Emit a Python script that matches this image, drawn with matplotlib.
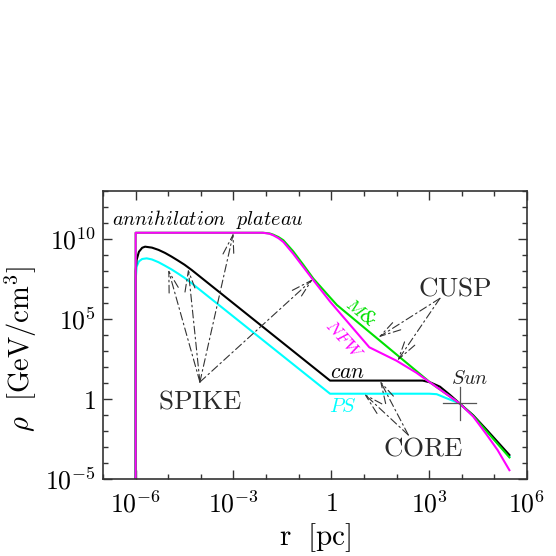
import numpy as np
import matplotlib
matplotlib.use('Agg')
import matplotlib.pyplot as plt

plt.rcParams['mathtext.fontset'] = 'cm'
plt.rcParams['font.family'] = ['DejaVu Serif']

# dark matter density profiles as (log10 r [pc], log10 rho [GeV/cm^3])
logr_nfw = [-6.0, -6.0, -2.1, -1.9, -1.78, -1.62, -1.47, -1.17, -0.86, -0.55, -0.04, 1.165,
            2.0, 2.6, 3.05, 3.5, 3.93, 4.35, 4.77, 5.1, 5.46]
logrho_nfw = [-6.0, 10.39, 10.39, 10.33, 10.23, 10.05, 9.81, 9.08, 8.25, 7.42, 6.09, 3.23,
              2.39, 1.65, 1.0, 0.35, -0.27, -1.1, -2.25, -3.2, -4.45]

logr_moore = [-6.0, -6.0, -2.1, -1.9, -1.78, -1.62, -1.47, -1.17, -0.86, -0.55, -0.04, 0.17,
              3.05, 3.5, 3.93, 4.35, 4.77, 5.46]
logrho_moore = [-6.0, 10.39, 10.39, 10.35, 10.27, 10.12, 9.92, 9.23, 8.39, 7.52, 6.35, 5.875,
                1.0, 0.35, -0.27, -1.05, -2.04, -3.65]

logr_can = [-6.0, -6.0, -5.97, -5.9, -5.8, -5.71, -5.5, -5.3, -5.1, -4.9, -4.7, -4.5, -4.28,
            -0.04, 2.8, 3.03, 3.33, 3.64, 3.93, 4.35, 4.77, 5.46]
logrho_can = [-6.0, 8.0, 8.69, 9.2, 9.45, 9.52, 9.46, 9.32, 9.13, 8.9, 8.65, 8.39, 8.06,
              1.15, 1.15, 1.04, 0.77, 0.25, -0.27, -1.02, -1.94, -3.5]

logr_ps = [-6.0, -6.0, -5.97, -5.9, -5.8, -5.66, -5.5, -5.3, -5.1, -4.9, -4.7, -4.5, -4.28,
           -0.04, 3.0, 3.23, 3.54, 3.93, 4.35, 4.77, 5.46]
logrho_ps = [-6.0, 7.4, 8.27, 8.6, 8.75, 8.79, 8.72, 8.55, 8.33, 8.1, 7.84, 7.57, 7.23,
             0.33, 0.33, 0.3, 0.04, -0.27, -1.05, -2.0, -3.6]

sun_r = 10**3.93
sun_rho = 10**-0.27

xmajor = [1e-6, 1e-3, 1, 1e3, 1e6]
xlabels = [r'$10^{-6}$', r'$10^{-3}$', r'$1$', r'$10^{3}$', r'$10^{6}$']
ymajor = [1e-5, 1, 1e5, 1e10]
ylabels = [r'$10^{-5}$', r'$1$', r'$10^{5}$', r'$10^{10}$']


def p(lr, lrho):
    return 10**np.array(lr, dtype=float), 10**np.array(lrho, dtype=float)


fig = plt.figure(figsize=(5.56, 5.56), dpi=100)
ax = fig.add_axes([0.1853, 0.1385, 0.7626, 0.518])

ax.plot(*p(logr_ps, logrho_ps), color='#00ffff', lw=1.5)
ax.plot(*p(logr_can, logrho_can), color='black', lw=1.5)
ax.plot(*p(logr_moore, logrho_moore), color='#00e000', lw=1.5)
ax.plot(*p(logr_nfw, logrho_nfw), color='#ff00ff', lw=1.5)

# Sun position cross
ax.plot([sun_r / 10**0.5, sun_r * 10**0.5], [sun_rho, sun_rho], color='#555555', lw=0.9)
ax.plot([sun_r, sun_r], [sun_rho / 10**1.04, sun_rho * 10**1.04], color='#555555', lw=0.9)

ax.set_xscale('log')
ax.set_yscale('log')
ax.set_xlim(1e-7, 1e6)
ax.set_ylim(1e-5, 1e13)

ax.set_xticks(xmajor, labels=xlabels)
ax.set_xticks(10.0**np.arange(-7, 7), minor=True)
ax.set_yticks(ymajor, labels=ylabels)
ax.set_yticks(10.0**np.arange(-5, 14), minor=True)
ax.tick_params(which='both', direction='in', top=True, right=True, color='#333333',
               labelsize=18.5)
ax.tick_params(which='major', length=6.5, width=1.0)
ax.tick_params(which='minor', length=3.5, width=1.0, labelbottom=False, labelleft=False)
ax.tick_params(axis='x', which='major', pad=9)
ax.tick_params(axis='y', which='major', pad=5)
for s in ax.spines.values():
    s.set_color('#333333')
    s.set_linewidth(1.2)

ax.set_xlabel(r'$\mathrm{r\ \ [pc]}$', fontsize=21, labelpad=2)
ax.set_ylabel(r'$\rho\ \ [\mathrm{GeV/cm^3}]$', fontsize=20.5)
ax.yaxis.set_label_coords(-0.15, 0.45)

# annotations
arr = dict(arrowstyle='->,head_length=1.5,head_width=0.4', linestyle=(0, (7, 3, 1.5, 3)),
           lw=0.8, color='#333333', shrinkA=0, shrinkB=0, mutation_scale=10)


def arrows(origin, targets):
    for t in targets:
        ax.annotate('', xy=p(*t), xytext=p(*origin), arrowprops=arr)


arrows((-4.03, 1.06), [(-5.0, 8.1), (-4.39, 8.15), (-3.0, 10.39), (-0.56, 7.5)])
arrows((3.33, 6.29), [(1.44, 3.85), (2.02, 2.37)])
arrows((2.36, -2.25), [(1.49, 1.15), (1.0, 0.33)])

big = dict(fontsize=19.5, color='#2a2a2a', ha='center', va='center')
ax.text(*p(-4.03, -0.15), r'$\mathrm{SPIKE}$', **big)
ax.text(*p(3.8, 6.94), r'$\mathrm{CUSP}$', **big)
ax.text(*p(2.8, -3.06), r'$\mathrm{CORE}$', **big)

ax.text(*p(-3.78, 11.19), r'$annihilation\ \ plateau$', fontsize=14.5, ha='center', va='center')
ax.text(*p(0.51, 1.69), r'$can$', fontsize=15.5, ha='center', va='center')
ax.text(*p(0.37, -0.5), r'$PS$', fontsize=14.5, color='#00ffff', ha='center', va='center')
ax.text(*p(4.25, 1.31), r'$Sun$', fontsize=14.5, color='#222222', ha='center', va='center')
ax.text(*p(0.9, 5.4), r'$M$&', fontsize=13, color='#00e000', rotation=-40,
        style='italic', ha='center', va='center')
ax.text(*p(0.38, 3.7), r'$NFW$', fontsize=13, color='#ff00ff', rotation=-48,
        ha='center', va='center')

fig.savefig('out.png', dpi=100)
